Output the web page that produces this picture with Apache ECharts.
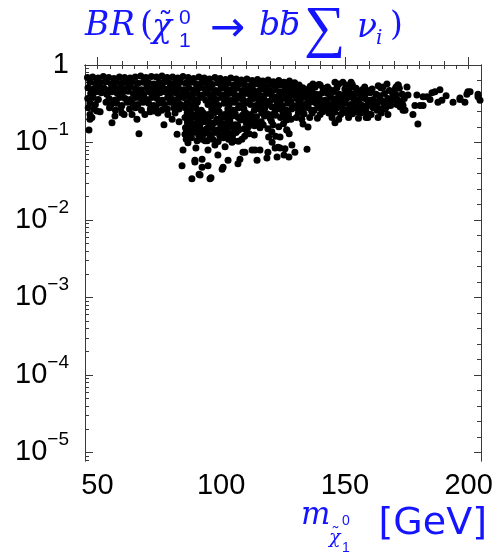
<!DOCTYPE html>
<html>
<head>
<meta charset="utf-8">
<script src="https://cdn.jsdelivr.net/npm/echarts@6/dist/echarts.min.js"></script>
<style>html,body{margin:0;padding:0;background:#fff}#c{width:497px;height:557px}</style>
</head>
<body>
<div id="c"></div>
<script>
// ---- data: [neutralino mass (GeV), branching ratio] ----
const bandLow = [
[46.0,0.69],[48.1,0.70],[50.3,0.68],[52.4,0.71],[54.6,0.69],[56.7,0.67],[58.9,0.70],[61.0,0.69],[63.2,0.68],[65.3,0.70],[67.5,0.72],[69.6,0.69],[71.8,0.71],[73.9,0.70],[76.1,0.72],[78.2,0.69],[80.4,0.70],[82.5,0.68],[84.6,0.71],
[47.0,0.60],[49.2,0.58],[51.3,0.59],[53.5,0.61],[55.6,0.57],[57.8,0.60],[59.9,0.58],[62.1,0.59],[64.2,0.61],[66.4,0.58],[68.5,0.60],[70.7,0.59],[72.8,0.57],[75.0,0.60],[77.1,0.61],[79.3,0.58],[81.4,0.59],[83.6,0.60],
[46.2,0.51],[48.4,0.49],[50.5,0.52],[52.7,0.50],[54.8,0.48],[57.0,0.51],[59.1,0.50],[61.3,0.49],[63.4,0.52],[65.6,0.50],[67.7,0.48],[69.9,0.51],[72.0,0.49],[74.2,0.50],[76.3,0.52],[78.5,0.49],[80.6,0.51],[82.8,0.50],[84.9,0.48],
[47.3,0.43],[49.5,0.45],[51.6,0.44],[53.8,0.42],[55.9,0.45],[58.1,0.43],[60.2,0.44],[62.4,0.46],[64.5,0.43],[66.7,0.44],[68.8,0.42],[71.0,0.45],[73.1,0.43],[75.3,0.44],[77.4,0.45],[79.6,0.43],[81.7,0.44],[83.9,0.42],
[46.1,0.37],[48.3,0.38],[50.4,0.36],[54.7,0.37],[56.9,0.35],[59.0,0.38],[61.2,0.37],[63.3,0.36],[65.5,0.38],[67.6,0.37],[69.8,0.36],[71.9,0.38],[74.1,0.37],[76.2,0.35],[78.4,0.38],[80.5,0.36],[82.7,0.37],[84.8,0.38],
[47.0,0.32],[49.2,0.31],[53.5,0.33],[55.6,0.31],[57.8,0.32],[59.9,0.30],[62.1,0.33],[64.2,0.32],[66.4,0.31],[68.5,0.33],[70.7,0.32],[72.8,0.30],[75.0,0.32],[77.1,0.31],[79.3,0.33],[81.4,0.32],[83.6,0.31],
[46.3,0.28],[48.6,0.27],[54.9,0.28],[57.3,0.26],[59.5,0.28],[63.0,0.27],[65.4,0.28],[67.8,0.26],[71.4,0.27],[73.6,0.28],[76.0,0.26],[78.3,0.27],[80.9,0.28],[83.0,0.27]
];
const leftTail = [
[47.0,0.23],[47.0,0.20],[46.6,0.145],[47.8,0.21],[55.9,0.18],[60.8,0.23],[66.0,0.20],[66.8,0.13],[64.0,0.23],[76.9,0.17],[80.2,0.20],[83.0,0.185],[71.3,0.25],[51.1,0.25],[57.1,0.22],[69.2,0.23],[74.5,0.24],[78.5,0.23],[49.8,0.255],[59.9,0.24],[72.9,0.255],[81.4,0.24]
];
const bandMid = [
[86.7,0.69],[88.9,0.67],[91.0,0.70],[93.2,0.68],[95.3,0.66],[97.5,0.69],[99.6,0.67],[101.8,0.65],[103.9,0.68],[106.1,0.66],[108.2,0.64],[110.4,0.66],[112.5,0.63],[114.7,0.65],[116.8,0.62],[119.0,0.64],[121.1,0.61],[123.3,0.63],[125.4,0.60],[127.6,0.62],[129.7,0.59],
[85.7,0.58],[87.9,0.60],[90.0,0.57],[92.2,0.59],[94.3,0.58],[96.5,0.56],[98.6,0.59],[100.8,0.57],[102.9,0.58],[105.1,0.55],[107.2,0.57],[109.4,0.56],[111.5,0.54],[113.7,0.57],[115.8,0.55],[118.0,0.53],[120.1,0.56],[122.3,0.54],[124.4,0.55],[126.6,0.52],[128.7,0.54],
[87.0,0.50],[89.2,0.48],[91.3,0.51],[93.5,0.49],[95.6,0.50],[97.8,0.47],[99.9,0.50],[102.1,0.49],[104.2,0.48],[106.4,0.50],[108.5,0.47],[110.7,0.49],[112.8,0.48],[115.0,0.46],[117.1,0.49],[119.3,0.47],[121.4,0.48],[123.6,0.45],[125.7,0.47],[127.9,0.46],[130.0,0.48],
[86.0,0.43],[88.2,0.42],[90.3,0.44],[92.5,0.41],[94.6,0.43],[96.8,0.42],[98.9,0.44],[101.1,0.41],[103.2,0.43],[105.4,0.42],[107.5,0.40],[109.7,0.43],[111.8,0.41],[114.0,0.42],[116.1,0.40],[118.3,0.43],[120.4,0.41],[122.6,0.39],[124.7,0.42],[126.9,0.40],[129.0,0.41],
[87.3,0.37],[89.5,0.36],[91.6,0.38],[93.8,0.35],[95.9,0.37],[98.1,0.36],[100.2,0.38],[102.4,0.36],[104.5,0.35],[106.7,0.37],[108.8,0.36],[111.0,0.34],[113.1,0.37],[115.3,0.35],[117.4,0.36],[119.6,0.34],[121.7,0.36],[123.9,0.35],[126.0,0.37],[128.1,0.34],
[86.1,0.32],[88.3,0.31],[90.4,0.33],[94.7,0.31],[96.9,0.32],[99.0,0.30],[101.2,0.32],[103.3,0.31],[105.5,0.33],[107.6,0.30],[109.8,0.32],[111.9,0.31],[114.1,0.30],[116.2,0.32],[118.4,0.31],[120.5,0.29],[122.7,0.31],[124.8,0.30],[127.0,0.32],[129.1,0.30],
[85.5,0.28],[87.7,0.27],[89.8,0.28],[92.0,0.26],[96.2,0.27],[98.4,0.28],[102.7,0.27],[104.9,0.26],[107.0,0.28],[109.2,0.27],[113.4,0.26],[115.6,0.27],[117.7,0.28],[121.9,0.26],[124.1,0.27],[126.3,0.26],[128.5,0.27],
[86.3,0.24],[88.5,0.23],[90.6,0.245],[92.8,0.24],[94.9,0.23],[97.1,0.24],[99.2,0.25],[101.4,0.23],[103.5,0.24],[105.7,0.235],[110.0,0.24],[112.1,0.23],[116.4,0.24],[118.6,0.235],[120.7,0.23],[125.0,0.24],[127.2,0.23],
[85.4,0.21],[87.6,0.20],[89.7,0.21],[91.9,0.205],[94.0,0.21],[98.3,0.20],[100.5,0.21],[102.6,0.205],[106.9,0.21],[109.0,0.20],[111.2,0.21],[113.3,0.20],[119.8,0.205],[124.0,0.21],[128.2,0.20],
[86.4,0.18],[88.6,0.175],[90.7,0.18],[92.9,0.185],[95.0,0.17],[97.2,0.18],[101.5,0.175],[103.6,0.18],[105.8,0.17],[110.1,0.18],[112.2,0.175],[114.4,0.18],[121.0,0.17],[125.2,0.175],
[85.6,0.155],[87.8,0.15],[89.9,0.155],[92.0,0.145],[94.2,0.15],[96.4,0.155],[98.5,0.145],[100.7,0.15],[104.9,0.155],[107.1,0.145],[109.3,0.15],[115.7,0.155],[118.9,0.15],[126.5,0.145],
[86.6,0.13],[88.7,0.135],[90.9,0.125],[93.0,0.13],[97.3,0.135],[99.4,0.13],[101.6,0.125],[103.8,0.13],[106.0,0.135],[111.3,0.13],[113.4,0.125],[122.0,0.12],[127.5,0.13],
[85.9,0.11],[88.0,0.115],[92.3,0.11],[94.4,0.105],[96.6,0.11],[100.9,0.115],[103.0,0.11],[105.2,0.105],[108.4,0.11]
];
const dipFill = [
[87.5,0.22],[91.7,0.225],[95.9,0.22],[100.1,0.215],[104.6,0.22],[108.6,0.225],[111.0,0.22],[114.3,0.215],[117.5,0.22],[122.0,0.225],[126.1,0.215],
[86.5,0.19],[90.8,0.195],[94.9,0.19],[99.3,0.185],[103.5,0.19],[107.8,0.195],[112.0,0.19],[116.2,0.185],[120.3,0.19],[126.4,0.195],
[87.2,0.165],[91.4,0.16],[95.7,0.165],[99.8,0.17],[102.5,0.16],[106.7,0.165],[111.0,0.16],[113.5,0.165],[117.0,0.17],[123.3,0.16],
[86.0,0.142],[90.2,0.14],[94.6,0.145],[98.0,0.138],[102.4,0.142],[106.3,0.14],[110.2,0.145],[120.5,0.138],
[87.3,0.122],[91.5,0.12],[95.5,0.124],[99.5,0.12],[104.6,0.122],[109.5,0.12],
[90.3,0.105],[98.8,0.103],[107.0,0.104]
];
const dipTail = [
[84.6,0.080],[84.2,0.050],[88.2,0.034],[91.1,0.039],[95.9,0.035],[89.4,0.059],[92.3,0.048],[94.7,0.050],[100.8,0.048],[106.8,0.053],[114.5,0.059],[118.5,0.063],[122.6,0.065],[125.4,0.069],[123.8,0.085],[121.8,0.085],[113.7,0.080],[109.6,0.075],[119.2,0.118],[123.8,0.118],[126.6,0.145],
[85.4,0.128],[89.4,0.056],[92.3,0.061],[94.7,0.080],[98.7,0.069],[102.8,0.059],[107.6,0.061],[108.8,0.075],[100.4,0.045],[91.5,0.038],[95.5,0.034],[112.5,0.080],[115.7,0.080],[118.9,0.075],[123.0,0.087],[125.8,0.083],[128.6,0.093],[120.6,0.101],
[129.8,0.075],[134.7,0.082],[127.4,0.065],[86.6,0.099],[93.5,0.105],[97.5,0.093],[104.4,0.101],[101.6,0.088],[89.8,0.085],[82.2,0.128]
];
const bandHigh = [
[146.0,0.60],[149.2,0.60],[152.5,0.60],[137.1,0.57],[140.0,0.55],[158.5,0.46],[165.4,0.52],[170.7,0.52],
[131.5,0.55],[136.0,0.53],[139.5,0.56],[143.0,0.52],[147.5,0.57],[150.5,0.55],[153.0,0.56],[158.0,0.52],[163.5,0.54],[167.0,0.57],[171.5,0.55],
[130.8,0.50],[133.0,0.51],[135.3,0.49],[138.0,0.52],[141.2,0.50],[144.0,0.48],[146.8,0.51],[150.0,0.49],[154.5,0.50],[157.0,0.48],[161.0,0.49],[164.5,0.51],[168.0,0.47],[172.0,0.50],
[131.6,0.44],[133.9,0.43],[136.2,0.45],[138.6,0.42],[140.9,0.44],[143.1,0.43],[145.5,0.45],[147.8,0.42],[152.0,0.44],[154.2,0.43],[156.5,0.41],[160.2,0.44],[162.6,0.42],[166.0,0.43],[169.4,0.45],[173.2,0.42],
[130.5,0.37],[132.8,0.38],[135.0,0.36],[137.3,0.38],[139.7,0.37],[142.0,0.35],[144.3,0.38],[146.6,0.37],[149.0,0.36],[151.2,0.38],[153.5,0.37],[155.8,0.35],[158.1,0.37],[161.5,0.36],[164.2,0.38],[167.3,0.37],[170.1,0.35],[174.0,0.37],
[131.4,0.32],[133.7,0.31],[136.0,0.33],[138.4,0.32],[140.7,0.30],[143.0,0.32],[145.4,0.31],[147.7,0.33],[150.1,0.32],[152.4,0.31],[154.7,0.33],[157.0,0.30],[159.4,0.32],[163.0,0.31],[165.8,0.32],[168.5,0.30],[171.0,0.31],
[130.6,0.28],[132.9,0.27],[135.2,0.28],[137.6,0.26],[139.9,0.28],[142.2,0.27],[146.8,0.28],[149.2,0.26],[151.6,0.27],[153.9,0.28],[158.5,0.27],[161.4,0.28],[166.3,0.27],
[131.2,0.24],[133.5,0.235],[136.8,0.24],[140.0,0.23],[143.5,0.24],[145.9,0.245],[148.3,0.23],[150.8,0.24],[153.1,0.235],[156.4,0.24],[160.0,0.23],[164.7,0.24],
[130.4,0.21],[132.6,0.20],[135.8,0.21],[138.9,0.205],[144.8,0.21],[147.5,0.20],[151.5,0.21],[155.5,0.205],[158.6,0.21],
[135.1,0.158],[146.0,0.18],[159.3,0.21],[133.1,0.173],
[152.5,0.52],[151.3,0.41],[154.5,0.36],[158.1,0.42],[159.3,0.35],[160.6,0.30],[158.5,0.25],[162.6,0.33],[164.6,0.27],[167.4,0.31],[168.6,0.36],[170.3,0.49],[167.4,0.23],[163.4,0.21],[160.6,0.23],[156.1,0.26]
];
const highFill = [
[132.0,0.47],[136.7,0.47],[141.5,0.46],[145.8,0.47],[151.0,0.47],[155.5,0.46],[160.0,0.47],
[130.7,0.41],[135.0,0.41],[139.5,0.40],[144.0,0.41],[149.3,0.41],[153.0,0.40],[157.8,0.41],[164.0,0.40],[170.8,0.41],
[131.9,0.35],[136.4,0.35],[140.8,0.34],[145.5,0.35],[150.2,0.35],[154.3,0.34],[159.8,0.35],[165.0,0.34],[171.5,0.35],
[130.9,0.30],[134.8,0.30],[139.2,0.29],[144.2,0.30],[148.8,0.30],[153.0,0.29],[156.2,0.30],[161.8,0.30],[166.8,0.29],
[132.0,0.26],[136.5,0.26],[141.0,0.25],[144.5,0.26],[150.0,0.26],[155.0,0.25],[163.0,0.26]
];
const sparseRight = [
[171.5,0.55],[175.1,0.52],[169.4,0.42],[173.1,0.33],[173.5,0.26],[172.3,0.29],[177.5,0.23],[179.5,0.173],[179.1,0.41],[181.6,0.39],[183.2,0.39],[181.6,0.30],[184.4,0.36],[186.4,0.45],[188.4,0.48],[189.2,0.35],[187.6,0.33],[193.7,0.33],[196.5,0.36],[198.5,0.33],[199.3,0.42],[200.6,0.45],[203.8,0.42],[204.6,0.35],[203.8,0.39],[175.5,0.41],[178.3,0.30],[180.4,0.30],[173.5,0.30],[170.3,0.36],[174.3,0.26],[185.2,0.44],[190.9,0.40],[196.5,0.375],[199.7,0.45]
];

// ---- axes ----
const xMin = 45, xMax = 205;
const xMajor = [50, 100, 150, 200];
const xMinor = [60, 70, 80, 90, 110, 120, 130, 140, 160, 170, 180, 190];
const yDecades = [-5, -4, -3, -2, -1, 0];   // log10 of 1e-5 ... 1
const yMin = -5.11, yMax = 0;

const xTop = [];
for (let v = 50; v <= 200; v += 5) xTop.push(v);
const yMinorLeft = [];
for (let d = -6; d < 0; d++) for (let k = 2; k <= 9; k++) {
  const v = d + Math.log10(k);
  if (v > yMin && v < yMax) yMinorLeft.push(v);
}
const yMinorRight = [];
for (let i = -25; i <= 0; i++) { const v = i * 0.2; if (v > yMin && Math.abs(v - Math.round(v)) > 1e-6) yMinorRight.push(v); }

const allPts = [].concat(bandLow, leftTail, bandMid, dipFill, dipTail, bandHigh, highFill, sparseRight)
  .map(p => [p[0], Math.log10(p[1])]);

const lineCol = '#3a3a3a';
const blue = '#1414ff';
const sans = '"Liberation Sans", Arial, sans-serif';
const dvSerif = '"DejaVu Serif", serif';
const lSerif = '"Liberation Serif", serif';

function xAx(pos, ticks, len, labels) {
  return {
    type: 'value', min: xMin, max: xMax, position: pos, gridIndex: 0,
    axisLine: { show: true, lineStyle: { color: lineCol, width: 1 } },
    axisTick: { show: true, inside: true, length: len, customValues: ticks, lineStyle: { color: lineCol } },
    axisLabel: labels ? { show: true, customValues: labels, color: '#000', fontFamily: sans, fontSize: 29, margin: 10 } : { show: false },
    splitLine: { show: false }
  };
}
function yAx(pos, ticks, len, labels) {
  return {
    type: 'value', min: yMin, max: yMax, position: pos, gridIndex: 0,
    axisLine: { show: true, lineStyle: { color: lineCol, width: 1 } },
    axisTick: { show: true, inside: true, length: len, customValues: ticks, lineStyle: { color: lineCol } },
    axisLabel: labels ? {
      show: true, customValues: labels, color: '#000', fontFamily: sans, fontSize: 29, lineHeight: 44, margin: 16,
      formatter: v => { const n = Math.round(v); return n === 0 ? '1' : '10{s|\u2212' + (-n) + '}'; },
      rich: { s: { fontSize: 19, fontFamily: sans, color: '#000', verticalAlign: 'top', lineHeight: 20 } }
    } : { show: false },
    splitLine: { show: false }
  };
}

function txt(t, x, y, font) {
  return { type: 'text', x: x, y: y, silent: true,
    style: { text: t, font: font, fill: blue, align: 'left', verticalAlign: 'middle' } };
}
const it33 = 'italic 33px ' + dvSerif, up33 = '33px ' + dvSerif;

const option = {
  animation: false,
  backgroundColor: '#fff',
  grid: { left: 85, right: 16, top: 65, bottom: 96, containLabel: false },
  xAxis: [ xAx('bottom', xMajor, 8, xMajor), xAx('bottom', xMinor, 4, null), xAx('top', xTop, 4, null) ],
  yAxis: [ yAx('left', yDecades, 8, yDecades), yAx('left', yMinorLeft, 4, null), yAx('right', yDecades, 7, null), yAx('right', yMinorRight, 4, null) ],
  series: [{
    type: 'scatter', xAxisIndex: 0, yAxisIndex: 0, data: allPts,
    symbol: 'circle', symbolSize: 7, itemStyle: { color: '#000', opacity: 1, borderWidth: 0 }, silent: true, clip: true
  }],
  graphic: [
    txt('B', 85, 26, it33), txt('R', 110, 26, it33), txt('(', 140, 26, up33),
    txt('\u03c7', 152, 28, it33), txt('\u02dc', 158, 25, '30px ' + dvSerif),
    txt('0', 179, 18, '21px ' + sans), txt('1', 179, 41, '21px ' + sans),
    txt('\u2192', 210, 30, '42px "DejaVu Sans", sans-serif'),
    txt('b', 259, 26, it33), txt('b', 279, 26, it33),
    { type: 'rect', silent: true, shape: { x: 285, y: 12, width: 13, height: 2 }, style: { fill: blue } },
    txt('\u2211', 304, 31, '58px ' + lSerif),
    txt('\u03bd', 357, 28, it33), txt('i', 376, 39, 'italic 20px ' + dvSerif), txt(')', 390, 26, up33),
    txt('m', 301, 516, 'italic 31px ' + dvSerif),
    txt('\u03c7', 329, 538, 'italic 19px ' + dvSerif), txt('\u02dc', 331, 535, '18px ' + dvSerif),
    txt('0', 342, 521, '14px ' + sans), txt('1', 342, 548, '14px ' + sans),
    { type: 'text', x: 487, y: 524, silent: true,
      style: { text: '[GeV]', font: '38px "DejaVu Sans", sans-serif', fill: blue, align: 'right', verticalAlign: 'middle' } }
  ]
};
const chart = echarts.init(document.getElementById('c'), null, { renderer: 'canvas' });
chart.setOption(option);
</script>
</body>
</html>
